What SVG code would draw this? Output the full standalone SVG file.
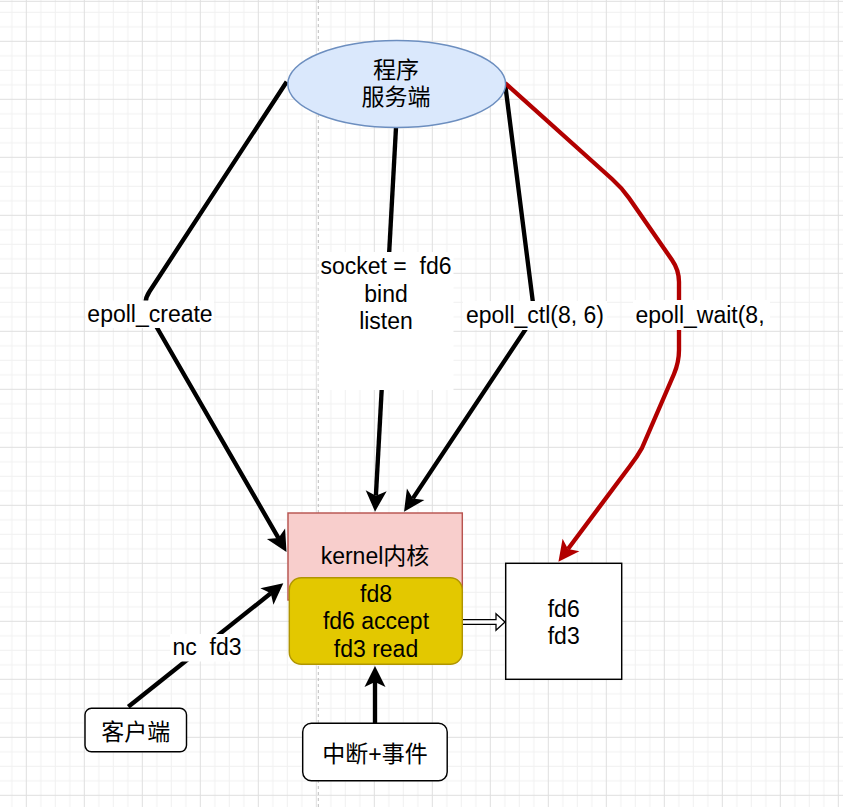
<svg xmlns="http://www.w3.org/2000/svg" width="843" height="807" viewBox="0 0 843 807">
  <defs>
    <pattern id="grid" x="25.8" y="40.8" width="58" height="58" patternUnits="userSpaceOnUse">
      <path d="M15,0V58M29.5,0V58M44,0V58M0,15H58M0,29.5H58M0,44H58" stroke="#f0f0f0" stroke-width="1" fill="none"/>
      <path d="M0.5,0V58M0,0.5H58" stroke="#dfdfdf" stroke-width="1" fill="none"/>
    </pattern>
    <marker id="arr" markerUnits="userSpaceOnUse" markerWidth="21" markerHeight="21" viewBox="0 0 21 21" refX="5" refY="10.5" orient="auto" overflow="visible">
      <path d="M0,0 L21,10.5 L0,21 L5,10.5 Z" fill="#000"/>
    </marker>
    <marker id="arrR" markerUnits="userSpaceOnUse" markerWidth="21" markerHeight="21" viewBox="0 0 21 21" refX="5" refY="10.5" orient="auto" overflow="visible">
      <path d="M0,0 L21,10.5 L0,21 L5,10.5 Z" fill="#b20000"/>
    </marker>
  </defs>
  <style>
    .t { font-family: "Liberation Sans", "Noto Sans CJK SC", sans-serif; font-size: 23px; fill: #000; text-anchor: middle; white-space: pre; }
    .edge { fill: none; stroke: #000; stroke-width: 4.35; marker-end: url(#arr); }
    .red { stroke: #b20000; marker-end: url(#arrR); stroke-linejoin: round; }
    .lbl { fill: #fff; }
    .box { fill: #fff; stroke: #000; stroke-width: 1.45; }
  </style>

  <!-- background grid -->
  <rect width="843" height="807" fill="#fff"/>
  <rect width="843" height="807" fill="url(#grid)"/>
  <path d="M0,1.3H843" stroke="#dfdfdf" stroke-width="1"/>
  <path d="M318.3,0V807" stroke="#bdbdbd" stroke-width="1" stroke-dasharray="3,3"/>

  <!-- connectors -->
  <g id="connectors">
    <path class="edge" d="M286.7,81.7 L149.5,291.5 Q142.3,302 148.5,313 L278.5,538.1"/>
    <path class="edge" d="M396,127.5 L375.9,495.7"/>
    <path class="edge" d="M505,83 L534.6,315.6 L412.9,498.4"/>
    <path class="edge red" d="M505,83 L612,179 Q622,188 629,198 L672,260 Q679,270 679,282 L679,350 Q679,362 674,374 L642,448 Q637,457 630,466 L568,549"/>
    <path class="edge" d="M128.3,706.7 L270.8,593.3"/>
    <path class="edge" d="M375,723.3 L375,682"/>
    <polygon points="462.3,619.6 496,619.6 496,613.8 505,622 496,630.2 496,624.4 462.3,624.4" fill="#fff" stroke="#000" stroke-width="1.3" stroke-linejoin="miter"/>

    <g id="lbl-epoll-create">
      <rect class="lbl" x="86" y="300.5" width="128" height="27.5"/>
      <text class="t" x="150" y="321.7">epoll_create</text>
    </g>
    <g id="lbl-socket">
      <rect class="lbl" x="318.5" y="252" width="135" height="138"/>
      <text class="t" x="386" y="274.3" xml:space="preserve">socket =  fd6</text>
      <text class="t" x="386" y="301.7">bind</text>
      <text class="t" x="386" y="329.3">listen</text>
    </g>
    <g id="lbl-epoll-ctl">
      <rect class="lbl" x="463" y="301" width="144" height="29"/>
      <text class="t" x="535" y="322.7">epoll_ctl(8, 6)</text>
    </g>
    <g id="lbl-epoll-wait">
      <rect class="lbl" x="633" y="300" width="137" height="30"/>
      <text class="t" x="700" y="322.7">epoll_wait(8,</text>
    </g>
    <g id="lbl-nc">
      <rect class="lbl" x="170" y="634" width="72" height="27.5"/>
      <text class="t" x="207" y="655" xml:space="preserve">nc  fd3</text>
    </g>
  </g>

  <!-- nodes -->
  <g id="server">
    <ellipse cx="396.7" cy="84" rx="108.9" ry="43.5" fill="#dae8fc" stroke="#6c8ebf" stroke-width="1.45"/>
    <text class="t" x="396" y="77.7">程序</text>
    <text class="t" x="396" y="105.4">服务端</text>
  </g>
  <g id="kernel">
    <rect x="288" y="513" width="174.3" height="87" fill="#f8cecc" stroke="#b85450" stroke-width="1.45"/>
    <text class="t" x="375" y="564.3">kernel内核</text>
  </g>
  <g id="fdlist">
    <rect x="289.3" y="577.7" width="173" height="86.6" rx="12" ry="12" fill="#e3c800" stroke="#b09500" stroke-width="1.45"/>
    <text class="t" x="376" y="601.7">fd8</text>
    <text class="t" x="376" y="629.3">fd6 accept</text>
    <text class="t" x="376" y="656.7">fd3 read</text>
  </g>
  <g id="ready">
    <rect class="box" x="505.7" y="563.3" width="116" height="116"/>
    <text class="t" x="563.7" y="616.7">fd6</text>
    <text class="t" x="563.7" y="644">fd3</text>
  </g>
  <g id="client">
    <rect class="box" x="85" y="708.3" width="101.5" height="43.5" rx="6.5" ry="6.5"/>
    <text class="t" x="135.7" y="740.4">客户端</text>
  </g>
  <g id="interrupt">
    <rect class="box" x="302.7" y="723.3" width="144.5" height="57.5" rx="8.7" ry="8.7"/>
    <text class="t" x="375" y="762">中断+事件</text>
  </g>
</svg>
